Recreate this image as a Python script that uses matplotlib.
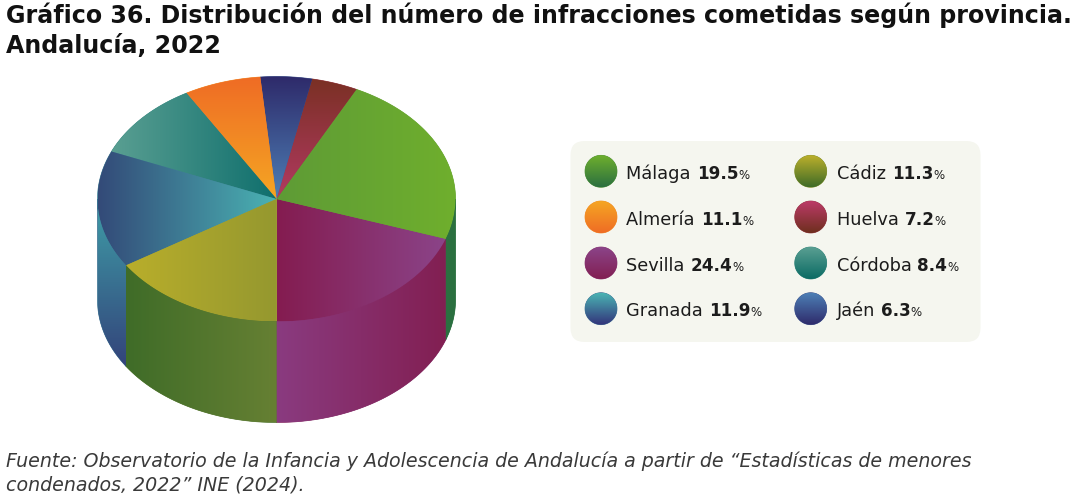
import numpy as np
import matplotlib
matplotlib.use('Agg')
import matplotlib.pyplot as plt
from matplotlib.colors import to_rgb
from matplotlib.patches import Polygon, FancyBboxPatch

# Legend
provincias = ['Málaga', 'Almería', 'Sevilla', 'Granada', 'Cádiz', 'Huelva', 'Córdoba', 'Jaén']
valores = [19.5, 11.1, 24.4, 11.9, 11.3, 7.2, 8.4, 6.3]
legend_top = ['#6FAF2D', '#F5A623', '#8B4489', '#4AB3B3', '#BDB02B', '#BC3A68', '#5A9F92', '#4D7FB5']
legend_bottom = ['#2B7040', '#EF6C25', '#821F52', '#33337A', '#3F6C28', '#6E2F1E', '#0B6B64', '#2E2A6A']

# The drawn wedges do not follow the printed percentages, angles are read off the picture
pie_provincias = ['Sevilla', 'Málaga', 'Huelva', 'Jaén', 'Almería', 'Córdoba', 'Granada', 'Cádiz']
pie_angulos = [71, 82.5, 15, 16.7, 25, 37, 55.6, 57.2]

# Gradients: (direction, start colour, end colour)
top_faces = {
    'Sevilla': ('h', '#841C50', '#8B4489'),
    'Málaga': ('h', '#5E9B36', '#6FAF2D'),
    'Huelva': ('v', '#7A3024', '#B23A62'),
    'Jaén': ('v', '#2E2A6A', '#4D7FB5'),
    'Almería': ('v', '#EF6C25', '#F5A623'),
    'Córdoba': ('h', '#5A9F92', '#0F6F6D'),
    'Granada': ('h', '#334A78', '#4AB3B3'),
    'Cádiz': ('h', '#B9AE2B', '#95982F'),
}
side_faces = {
    'Sevilla': ('h', '#8A3B80', '#821F52'),
    'Málaga': ('v', '#2B7040', '#2B7040'),
    'Granada': ('v', '#3F9FA8', '#33437A'),
    'Cádiz': ('h', '#3F6C28', '#668033'),
}

titulo = ['Gráfico 36. Distribución del número de infracciones cometidas según provincia.',
          'Andalucía, 2022']
fuente = ['Fuente: Observatorio de la Infancia y Adolescencia de Andalucía a partir de “Estadísticas de menores',
          'condenados, 2022” INE (2024).']

plt.rcParams['font.family'] = 'DejaVu Sans'
fig = plt.figure(figsize=(10.8, 4.98), dpi=100)
ax = fig.add_axes([0, 0, 1, 1])
ax.axis('off')

cx, cy, rx, ry, depth = 276.5, 199, 179, 122.5, 101


def gradient_fill(verts, direction, c1, c2):
    verts = np.array(verts)
    x0, y0 = verts.min(axis=0)
    x1, y1 = verts.max(axis=0)
    t = np.linspace(0, 1, 256)
    col = np.outer(1 - t, to_rgb(c1)) + np.outer(t, to_rgb(c2))
    img = col[np.newaxis, :, :] if direction == 'h' else col[:, np.newaxis, :]
    # flat patch under the image closes the seams left by the clipped edges
    media = col[128]
    ax.add_patch(Polygon(verts, closed=True, fc=media, ec=media, lw=0.5, zorder=1.5))
    im = ax.imshow(img, extent=[x0, x1, y1, y0], origin='upper', aspect='auto',
                   interpolation='bilinear', zorder=2)
    clip = Polygon(verts, closed=True, transform=ax.transData, fc='none', ec='none')
    ax.add_patch(clip)
    im.set_clip_path(clip)


def arc(a1, a2, dy=0):
    a = np.radians(np.linspace(a1, a2, 200))
    return np.column_stack([cx + rx * np.cos(a), cy + dy - ry * np.sin(a)])


inicio = -90
for nombre, ang in zip(pie_provincias, pie_angulos):
    fin = inicio + ang
    gradient_fill(np.vstack([[cx, cy], arc(inicio, fin)]), *top_faces[nombre])
    # side wall, only the part on the front of the cake
    if nombre in side_faces:
        a1 = max(inicio % 360, 180)
        a2 = min(inicio % 360 + ang, 360)
        gradient_fill(np.vstack([arc(a1, a2), arc(a2, a1, depth)]), *side_faces[nombre])
    inicio = fin

# Legend panel
ax.add_patch(FancyBboxPatch((584, 154.5), 383, 174, boxstyle='round,pad=13.5,rounding_size=14',
                            fc='#F5F6EF', ec='none', zorder=1))

fig.canvas.draw()
renderer = fig.canvas.get_renderer()
filas = [171.3, 217, 263, 308.7]
for i, nombre in enumerate(provincias):
    col = 0 if i < 4 else 1
    y = filas[i % 4]
    xc = 601 if col == 0 else 810.7
    r = 16
    a = np.linspace(0, 2 * np.pi, 100)
    gradient_fill(np.column_stack([xc + r * np.cos(a), y + r * np.sin(a)]), 'v', legend_top[i], legend_bottom[i])
    x = 626.5 if col == 0 else 837
    for txt, w, s in [(nombre + ' ', 'normal', 12.8), (f'{valores[i]}', 'bold', 12.1), ('%', 'normal', 8.5)]:
        t = ax.text(x, y + 7.5, txt, fontsize=s, fontweight=w, color='#1c1c1c',
                    va='baseline', ha='left', zorder=3)
        x += t.get_window_extent(renderer).width

# Title and source
for linea, y in zip(titulo, [22.5, 53]):
    ax.text(6, y, linea, fontsize=17.1, fontweight='bold', color='#111111', va='baseline')
for linea, y in zip(fuente, [467, 490.5]):
    ax.text(6, y, linea, fontsize=13.65, style='italic', color='#3a3a3a', va='baseline')

ax.set_xlim(0, 1080)
ax.set_ylim(498, 0)
fig.savefig('out.png', dpi=100)
